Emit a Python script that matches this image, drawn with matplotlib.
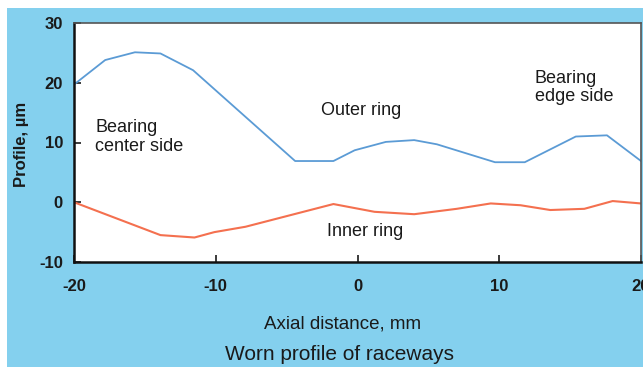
import matplotlib
matplotlib.use("Agg")
import matplotlib.pyplot as plt
from matplotlib.patches import Rectangle

# outer ring profile (blue)
outer_x = [-20, -17.8, -15.7, -13.9, -11.6, -4.4, -1.7, -0.2, 2.0, 4.0, 5.6, 9.7, 11.8, 15.4, 17.6, 20]
outer_y = [19.7, 23.8, 25.1, 24.9, 22.1, 6.9, 6.9, 8.7, 10.1, 10.4, 9.7, 6.7, 6.7, 11.0, 11.2, 6.9]

# inner ring profile (red)
inner_x = [-20, -13.9, -11.5, -10.1, -7.9, -1.7, 1.2, 4.0, 7.0, 9.4, 11.5, 13.6, 16.0, 18.0, 20]
inner_y = [0.0, -5.5, -5.9, -5.0, -4.1, -0.3, -1.6, -2.0, -1.1, -0.2, -0.5, -1.3, -1.1, 0.2, -0.2]

xticks = [-20, -10, 0, 10, 20]
yticks = [-10, 0, 10, 20, 30]

plt.rcParams['font.family'] = ['Liberation Sans', 'DejaVu Sans']
plt.rcParams['axes.unicode_minus'] = False
bg = '#84d0ee'
txt = '#1a1a1a'

fig = plt.figure(figsize=(6.43, 3.67), dpi=100)
fig.patches.append(Rectangle((7 / 643, 0), 1, (367 - 8) / 367, transform=fig.transFigure,
                             facecolor=bg, edgecolor='none', zorder=-10))

ax = fig.add_axes([74 / 643, (367 - 262) / 367, (641 - 74) / 643, (262 - 23) / 367])
ax.set_facecolor('white')
ax.plot(outer_x, outer_y, color='#5b9bd5', lw=1.3)
ax.plot(inner_x, inner_y, color='#f4704f', lw=1.5)

ax.set_xlim(-20, 20)
ax.set_ylim(-10, 30)
ax.set_xticks(xticks)
ax.set_yticks(yticks)
ax.tick_params(direction='in', length=5, width=1.2, labelsize=12, colors=txt)
ax.tick_params(axis='x', pad=12)
ax.tick_params(axis='y', pad=8)
for lab in ax.get_xticklabels() + ax.get_yticklabels():
    lab.set_fontweight('bold')
for s in ['left', 'bottom']:
    ax.spines[s].set_linewidth(1.8)
    ax.spines[s].set_color('#111111')
for s in ['top', 'right']:
    ax.spines[s].set_linewidth(1.2)
    ax.spines[s].set_color('#555555')

ax.text(-18.5, 10.9, 'Bearing\ncenter side', fontsize=13, color=txt, va='center', ha='left',
        linespacing=1.1)
ax.text(-2.6, 15.4, 'Outer ring', fontsize=13, color=txt, va='center', ha='left')
ax.text(12.5, 19.2, 'Bearing\nedge side', fontsize=13, color=txt, va='center', ha='left',
        linespacing=1.1)
ax.text(-2.15, -4.85, 'Inner ring', fontsize=13, color=txt, va='center', ha='left')

fig.text(343 / 643, 1 - 324 / 367, 'Axial distance, mm', fontsize=13.5, color=txt,
         ha='center', va='center')
fig.text(22 / 643, 1 - 144 / 367, 'Profile, µm', fontsize=12, color=txt, ha='center', va='center',
         rotation=90, fontweight='bold')
fig.text(340 / 643, 1 - 354 / 367, 'Worn profile of raceways', fontsize=15, color=txt,
         ha='center', va='center')

fig.savefig('out.png', dpi=100)
